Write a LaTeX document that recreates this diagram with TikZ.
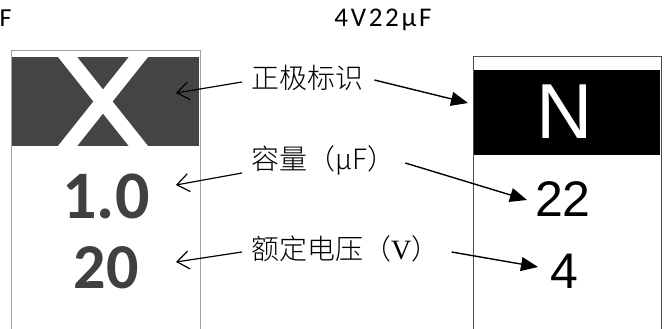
\documentclass[tikz,border=0pt]{standalone}
\usepackage{fontspec}
\setmainfont{Carlito}
\newfontfamily\cjkfont{Noto Sans CJK SC}[UprightFont=* Light]
\newfontfamily\arialfont{Liberation Sans}
\newfontfamily\serifV{Liberation Serif}
\newfontfamily\topfont{Carlito}[LetterSpace=10]
\usetikzlibrary{arrows.meta}
\definecolor{darkband}{HTML}{444444}
\definecolor{numgray}{HTML}{404040}
\begin{document}
\begin{tikzpicture}[x=1pt,y=-1pt,
  lbl/.style={font=\cjkfont\fontsize{28}{28}\selectfont, inner sep=0pt, anchor=west},
  openarrow/.style={-{Straight Barb[length=12pt,width=18pt,line width=1.2pt]}, line width=1.2pt},
  fillarrow/.style={-{Triangle[length=17pt,width=14pt]}, line width=1.4pt},
  topt/.style={font=\topfont\fontsize{27}{27}\selectfont, inner sep=0pt}]
\useasboundingbox (0,0) rectangle (664,329);
\clip (0,0) rectangle (664,329);
% top texts
\node[font=\fontsize{26}{26}\selectfont, inner sep=0pt, anchor=west] (ftxt) at (-0.5,18) {F};
\node[topt] (toptxt) at (383,20) {4V22μF};
% left box
\draw[draw=gray!75, line width=1pt] (11,340) -- (11,51) -- (200,51) -- (200,340);
\fill[darkband] (12,57) rectangle (199,146);
\begin{scope}
\clip (12,57) rectangle (199,146);
\draw[white, line width=15pt] (62,50) -- (144,153);
\draw[white, line width=15pt] (144,50) -- (62,153);
\end{scope}
\node[font=\bfseries\fontsize{68}{68}\selectfont, text=numgray, inner sep=0pt] (v10) at (106,196) {1.0};
\node[font=\bfseries\fontsize{64}{64}\selectfont, text=numgray, inner sep=0pt] (v20) at (106,268) {20};
% right box
\draw[draw=black!70, line width=1pt] (473,340) -- (473,57) -- (661,57) -- (661,340);
\fill[black] (474,70) rectangle (660,155);
\node[font=\arialfont\fontsize{78}{78}\selectfont, text=white, inner sep=0pt] (nn) at (565,112) {N};
\node[font=\arialfont\fontsize{50}{50}\selectfont, inner sep=0pt] (v22) at (563,199) {22};
\node[font=\arialfont\fontsize{50}{50}\selectfont, inner sep=0pt] (v4) at (564,271) {4};
% labels
\node[lbl] (l1) at (251,78) {正极标识};
\node[lbl] (l2) at (251,160) {容量（μF）};
\node[lbl] (l3) at (251,249) {额定电压（{\serifV V}）};
% tips
\coordinate (t1) at (176,93);
\coordinate (t2) at (176,185);
\coordinate (t3) at (176,262);
\coordinate (r1) at (468,103);
\coordinate (r2) at (527,200);
\coordinate (r3) at (538,267);
\draw[openarrow] ([xshift=-9pt,yshift=-4pt]l1.west) -- (t1);
\draw[openarrow] ([xshift=-9pt,yshift=-13pt]l2.west) -- (t2);
\draw[openarrow] ([xshift=-9pt,yshift=-3pt]l3.west) -- (t3);
\draw[fillarrow] ([xshift=11pt,yshift=-2pt]l1.east) -- (r1);
\draw[fillarrow] ([xshift=10pt,yshift=-3pt]l2.east) -- (r2);
\draw[fillarrow] ([xshift=12pt,yshift=-3pt]l3.east) -- (r3);
\end{tikzpicture}
\end{document}
